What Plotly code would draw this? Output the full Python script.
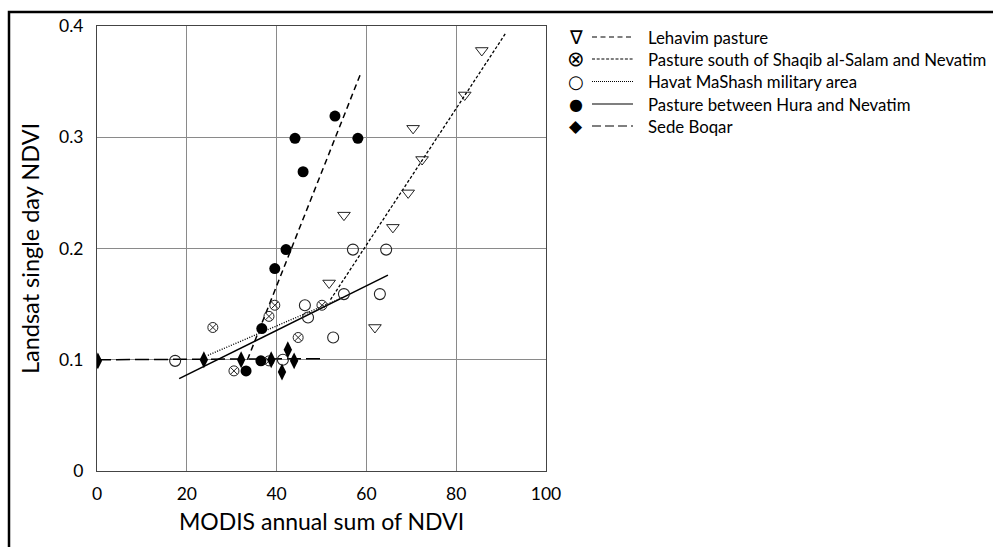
import plotly.graph_objects as go

# ---------------- data ----------------
lehavim_x = [51.7, 55.0, 61.9, 65.9, 69.3, 70.4, 72.4, 81.9, 85.7]
lehavim_y = [0.169, 0.230, 0.129, 0.219, 0.250, 0.308, 0.280, 0.338, 0.378]

shaqib_x = [25.8, 39.6, 38.3, 50.1, 44.8, 30.5, 38.3]
shaqib_y = [0.129, 0.149, 0.139, 0.149, 0.120, 0.090, 0.099]

havat_x = [17.4, 41.4, 46.3, 47.0, 55.0, 52.6, 63.0, 57.0, 64.4]
havat_y = [0.099, 0.100, 0.149, 0.138, 0.159, 0.120, 0.159, 0.199, 0.199]

hura_x = [33.2, 36.5, 36.7, 39.6, 42.1, 45.9, 44.1, 58.1, 53.0]
hura_y = [0.090, 0.099, 0.128, 0.182, 0.199, 0.269, 0.299, 0.299, 0.319]

sede_x = [0.2, 23.8, 32.1, 38.8, 43.9, 42.5, 41.2]
sede_y = [0.099, 0.100, 0.100, 0.100, 0.099, 0.109, 0.089]

# fitted lines (end points)
fit_steep_x = [33.5, 58.7]
fit_steep_y = [0.100, 0.357]
fit_leh_x = [52.0, 91.1]
fit_leh_y = [0.154, 0.394]
fit_solid_x = [18.3, 64.8]
fit_solid_y = [0.083, 0.176]
fit_dot_x = [24.7, 54.8]
fit_dot_y = [0.104, 0.156]
fit_sede_x = [0.0, 50.0]
fit_sede_y = [0.100, 0.101]

legend_labels = ["Lehavim pasture",
                 "Pasture south of Shaqib al-Salam and Nevatim",
                 "Havat MaShash military area",
                 "Pasture between Hura and Nevatim",
                 "Sede Boqar"]
legend_glyphs = ["\u2207", "\u2297", "\u25CB", "\u25CF", "\u25C6"]

x_ticks = [0, 20, 40, 60, 80, 100]
y_ticks = [0, 0.1, 0.2, 0.3, 0.4]

FONT = "Lato, 'Open Sans', sans-serif"

fig = go.Figure()

# fit lines
line_specs = [
    (fit_sede_x, fit_sede_y, dict(color="black", width=1.5, dash="14px,5px")),
    (fit_solid_x, fit_solid_y, dict(color="black", width=1.5)),
    (fit_dot_x, fit_dot_y, dict(color="black", width=1.4, dash="1px,1.5px")),
    (fit_leh_x, fit_leh_y, dict(color="black", width=1.3, dash="3px,2px")),
    (fit_steep_x, fit_steep_y, dict(color="black", width=1.5, dash="6px,4px")),
]
for lx, ly, ls in line_specs:
    fig.add_trace(go.Scatter(x=lx, y=ly, mode="lines", line=ls,
                             showlegend=False, hoverinfo="skip"))

# points
fig.add_trace(go.Scatter(x=shaqib_x, y=shaqib_y, mode="markers", showlegend=False,
                         marker=dict(symbol="circle-x-open", size=10, color="#222",
                                     line=dict(width=1, color="#222"))))
fig.add_trace(go.Scatter(x=havat_x, y=havat_y, mode="markers", showlegend=False,
                         marker=dict(symbol="circle-open", size=11, color="#222",
                                     line=dict(width=1.1, color="#222"))))
fig.add_trace(go.Scatter(x=lehavim_x, y=lehavim_y, mode="markers", showlegend=False,
                         marker=dict(symbol="triangle-down-open", size=11, color="#222",
                                     line=dict(width=1, color="#222"))))
fig.add_trace(go.Scatter(x=hura_x, y=hura_y, mode="markers", showlegend=False,
                         marker=dict(symbol="circle", size=11, color="black")))
fig.add_trace(go.Scatter(x=sede_x, y=sede_y, mode="markers", showlegend=False,
                         marker=dict(symbol="diamond-tall", size=12, color="black")))

# plot geometry in pixels
L, R, T, B = 97, 546, 26, 471
W, H = 993, 547
pw, ph = R - L, B - T


def px2paper_x(px):
    return (px - L) / pw


def px2paper_y(py):
    return (B - py) / ph


shapes = []
annotations = []
# outer frame (only left and top edges visible)
shapes.append(dict(type="rect", xref="paper", yref="paper",
                   x0=px2paper_x(9), x1=px2paper_x(1150),
                   y0=px2paper_y(700), y1=px2paper_y(12),
                   line=dict(color="black", width=2.5), layer="above"))

# custom legend
row_y = [37, 59, 81.5, 104, 126]
dashes = ["5px,3.5px", "3px,1.7px", "1px,1px", "solid", "9px,4px,9px,4px,9px,4px,2px,4px"]
gsizes = [19, 21, 18, 16, 17]
for i, lab in enumerate(legend_labels):
    y = px2paper_y(row_y[i])
    annotations.append(dict(xref="paper", yref="paper", x=px2paper_x(576), y=y,
                            text=legend_glyphs[i], showarrow=False,
                            xanchor="center", yanchor="middle",
                            font=dict(family="DejaVu Sans", size=gsizes[i], color="black")))
    shapes.append(dict(type="line", xref="paper", yref="paper",
                       x0=px2paper_x(592), x1=px2paper_x(633), y0=y, y1=y,
                       line=dict(color="black", width=1.2, dash=dashes[i])))
    annotations.append(dict(xref="paper", yref="paper", x=px2paper_x(646), y=y,
                            text=lab, showarrow=False, xanchor="left", yanchor="middle",
                            font=dict(family=FONT, size=16.8, color="black")))

fig.update_layout(
    width=W, height=H,
    margin=dict(l=L, r=W - R, t=T, b=H - B, pad=0),
    paper_bgcolor="white", plot_bgcolor="white",
    font=dict(family=FONT, color="black"),
    shapes=shapes, annotations=annotations,
    xaxis=dict(range=[0, 100], tickvals=x_ticks, showgrid=True, gridcolor="#8a8a8a",
               gridwidth=1, zeroline=False, showline=True, linecolor="#444",
               linewidth=1, mirror=True, ticks="", ticklabelstandoff=7,
               tickfont=dict(size=17.5, color="black"),
               title=dict(text="MODIS annual sum of NDVI", font=dict(size=23), standoff=10)),
    yaxis=dict(range=[0, 0.4], tickvals=y_ticks, showgrid=True, gridcolor="#8a8a8a",
               gridwidth=1, zeroline=False, showline=True, linecolor="#444",
               linewidth=1, mirror=True, ticks="", ticklabelstandoff=9,
               tickfont=dict(size=17.5, color="black"),
               title=dict(text="Landsat single day NDVI", font=dict(size=23.5), standoff=12)),
)

fig.write_html("out.html")
